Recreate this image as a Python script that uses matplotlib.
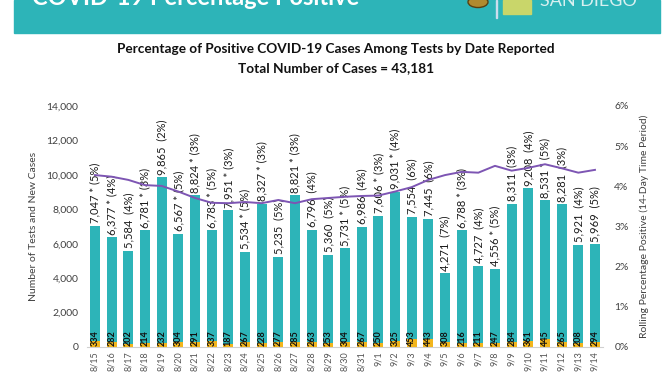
import numpy as np
import matplotlib

matplotlib.use('Agg')
import matplotlib.pyplot as plt
from matplotlib.patches import Rectangle, Circle

# Data
dates = ['8/15', '8/16', '8/17', '8/18', '8/19', '8/20', '8/21', '8/22', '8/23', '8/24',
         '8/25', '8/26', '8/27', '8/28', '8/29', '8/30', '8/31', '9/1', '9/2', '9/3',
         '9/4', '9/5', '9/6', '9/7', '9/8', '9/9', '9/10', '9/11', '9/12', '9/13', '9/14']
tests = [7047, 6377, 5584, 6781, 9865, 6567, 8824, 6783, 7951, 5534,
         8327, 5235, 8821, 6796, 5360, 5731, 6986, 7606, 9031, 7554,
         7445, 4271, 6788, 4727, 4556, 8311, 9208, 8531, 8281, 5921, 5969]
cases = [334, 282, 202, 214, 232, 304, 291, 337, 187, 267,
         228, 277, 285, 263, 253, 304, 267, 250, 325, 453,
         443, 308, 216, 211, 247, 284, 361, 445, 265, 208, 294]
day_pct = [5, 4, 4, 3, 2, 5, 3, 5, 3, 5,
           3, 5, 3, 4, 5, 5, 4, 3, 4, 6,
           6, 7, 3, 4, 5, 3, 4, 5, 3, 4, 5]
starred = [1, 1, 0, 1, 0, 1, 1, 1, 1, 1,
           1, 0, 1, 0, 0, 1, 0, 1, 1, 0,
           0, 0, 1, 0, 1, 0, 0, 1, 0, 0, 0]
rolling = [4.28, 4.24, 4.16, 4.03, 4.01, 3.87, 3.71, 3.59, 3.58, 3.61,
           3.58, 3.66, 3.58, 3.68, 3.71, 3.74, 3.76, 3.77, 3.87, 3.98,
           4.16, 4.28, 4.36, 4.34, 4.51, 4.39, 4.46, 4.55, 4.45, 4.34, 4.41]

teal = '#2db4b8'
orange = '#f2b51c'
purple = '#7d55b3'
grey = '#404040'

plt.rcParams['font.family'] = ['Lato', 'DejaVu Sans']

fig = plt.figure(figsize=(6.72, 3.72), dpi=100)

# header band (its text is cropped at the top edge, as in the source)
fig.patches.append(Rectangle((14 / 672, 1 - 33 / 372), 646 / 672, 33 / 372,
                             transform=fig.transFigure, color=teal, zorder=0))
fig.text(32 / 672, 1 - 5 / 372, 'COVID-19 Percentage Positive', color='white',
         fontsize=17, fontweight='bold', va='baseline', ha='left')
fig.patches.append(Circle((478 / 672, 1 - 2 / 372), 10 / 672, transform=fig.transFigure,
                          facecolor='#b08a2e', edgecolor='#5a4010', zorder=2))
fig.patches.append(Rectangle((496 / 672, 1 - 18 / 372), 1 / 672, 18 / 372,
                             transform=fig.transFigure, color='#cde', zorder=2))
fig.patches.append(Rectangle((503 / 672, 1 - 14 / 372), 28 / 672, 14 / 372,
                             transform=fig.transFigure, color='#c9d66a', zorder=2))
fig.text(540 / 672, 1 - 6 / 372, 'SAN DIEGO', color='#d8f0f0', fontsize=13,
         va='baseline', ha='left')

fig.text(0.5, 1 - 49 / 372, 'Percentage of Positive COVID-19 Cases Among Tests by Date Reported',
         ha='center', va='center', fontsize=9.8, fontweight='bold', color='#111111')
fig.text(0.5, 1 - 68 / 372, 'Total Number of Cases = 43,181',
         ha='center', va='center', fontsize=9.8, fontweight='bold', color='#111111')

ax = fig.add_axes([86.7 / 672, 25 / 372, 516.6 / 672, 241 / 372])
x = np.arange(len(dates))
ax.bar(x, tests, width=0.6, color=teal, zorder=2)
ax.bar(x, cases, width=0.6, color=orange, zorder=3)
ax.set_xlim(-0.5, len(dates) - 0.5)
ax.set_ylim(0, 14000)
ax.set_yticks(np.arange(0, 14001, 2000))
ax.set_yticklabels([f'{v:,}' for v in range(0, 14001, 2000)])
ax.set_xticks(x)
ax.set_xticklabels(dates, rotation=90, fontsize=6.5, color='#555555')
ax.tick_params(axis='y', length=0, labelsize=7.5, labelcolor=grey, pad=6)
ax.tick_params(axis='x', length=0, pad=3)
for s in ['top', 'right', 'left']:
    ax.spines[s].set_visible(False)
ax.spines['bottom'].set_color('#d0d0d0')
ax.set_ylabel('Number of Tests and New Cases', fontsize=7.5, color=grey, labelpad=6)

for i in range(len(dates)):
    star = ' * ' if starred[i] else '  '
    ax.text(x[i], tests[i] + 150, f'{tests[i]:,}{star}({day_pct[i]}%)', rotation=90,
            ha='center', va='bottom', fontsize=8, color='#1a1a1a', zorder=5)
    ax.text(x[i], 40, f'{cases[i]}', rotation=90, ha='center', va='bottom',
            fontsize=6.5, fontweight='bold', color='#111111', zorder=5)

ax2 = ax.twinx()
ax2.plot(x, rolling, color=purple, linewidth=1.4, zorder=4)
ax2.set_ylim(0, 6)
ax2.set_yticks(range(0, 7))
ax2.set_yticklabels([f'{v}%' for v in range(0, 7)])
ax2.tick_params(axis='y', length=0, labelsize=7.5, labelcolor=grey, pad=8)
for s in ['top', 'right', 'left', 'bottom']:
    ax2.spines[s].set_visible(False)
ax2.set_ylabel('Rolling Percentage Positive (14-Day Time Period)', fontsize=7.5,
               color=grey, labelpad=8)

fig.savefig('out.png', dpi=100)
